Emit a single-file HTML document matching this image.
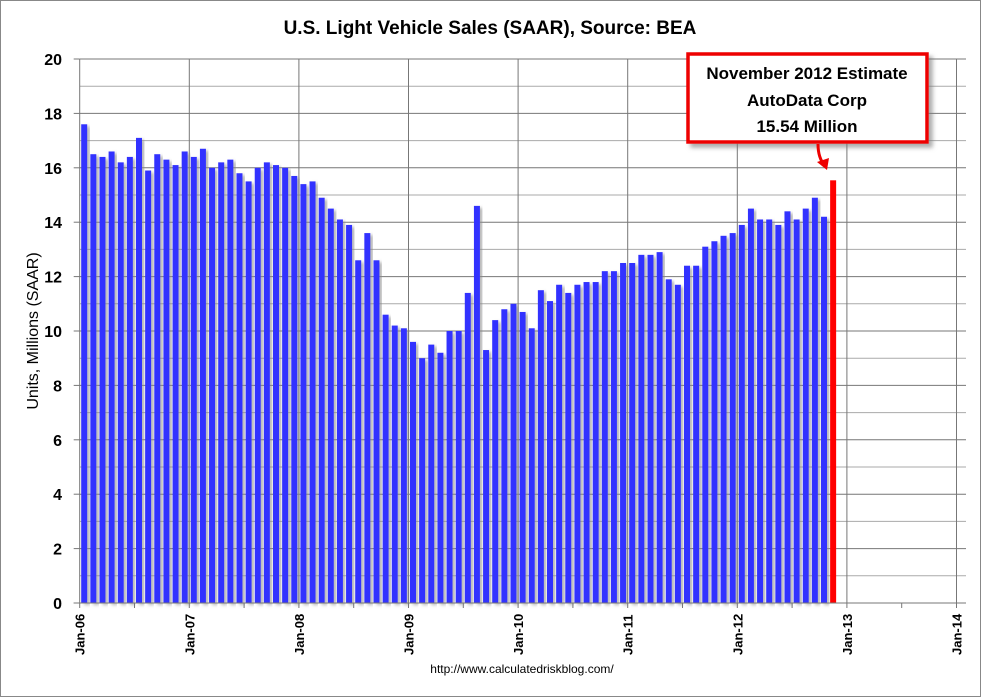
<!DOCTYPE html>
<html><head><meta charset="utf-8"><style>
html,body{margin:0;padding:0;background:#fff}
svg{display:block;font-family:"Liberation Sans",sans-serif}
</style></head><body>
<svg id="chart" width="981" height="697" xmlns="http://www.w3.org/2000/svg">
<defs>
<filter id="sh" x="-20%" y="-5%" width="160%" height="110%"><feDropShadow dx="3" dy="2" stdDeviation="1.5" flood-color="#888" flood-opacity="0.6"/></filter>
<filter id="bsh" x="-10%" y="-10%" width="130%" height="130%"><feDropShadow dx="4" dy="4" stdDeviation="2" flood-color="#777" flood-opacity="0.6"/></filter>
</defs>
<rect x="0.5" y="0.5" width="980" height="696" fill="#fff" stroke="#888"/>
<text x="490" y="34" text-anchor="middle" font-size="19" font-weight="bold" fill="#000">U.S. Light Vehicle Sales (SAAR), Source: BEA</text>
<g id="grid"></g>
<g id="bars"></g>
<g id="axes"></g>
<text transform="translate(38,331) rotate(-90)" text-anchor="middle" font-size="16" fill="#000">Units, Millions (SAAR)</text>
<text x="522" y="673" text-anchor="middle" font-size="12" fill="#000">http://www.calculatedriskblog.com/</text>
<g>
<rect x="688" y="54" width="239" height="88" fill="#fff" stroke="#e00" stroke-width="3.5" filter="url(#bsh)"/>
<text x="807" y="79" text-anchor="middle" font-size="17" font-weight="bold">November 2012 Estimate</text>
<text x="807" y="106" text-anchor="middle" font-size="17" font-weight="bold">AutoData  Corp</text>
<text x="807" y="132" text-anchor="middle" font-size="17" font-weight="bold">15.54 Million</text>
<path d="M818,144 Q818,158 825,166" fill="none" stroke="#e00" stroke-width="3"/>
<path d="M817,162 L827,170 L829,158 Z" fill="#e00"/>
</g>
</svg>
<script>
const values = [17.6,16.5,16.4,16.6,16.2,16.4,17.1,15.9,16.5,16.3,16.1,16.6,
16.4,16.7,16.0,16.2,16.3,15.8,15.5,16.0,16.2,16.1,16.0,15.7,
15.4,15.5,14.9,14.5,14.1,13.9,12.6,13.6,12.6,10.6,10.2,10.1,
9.6,9.0,9.5,9.2,10.0,10.0,11.4,14.6,9.3,10.4,10.8,11.0,
10.7,10.1,11.5,11.1,11.7,11.4,11.7,11.8,11.8,12.2,12.2,12.5,
12.5,12.8,12.8,12.9,11.9,11.7,12.4,12.4,13.1,13.3,13.5,13.6,
13.9,14.5,14.1,14.1,13.9,14.4,14.1,14.5,14.9,14.2];
const estimateValue = [15.54];
const yTicks = [0,2,4,6,8,10,12,14,16,18,20];
const xTickLabels = ["Jan-06","Jan-07","Jan-08","Jan-09","Jan-10","Jan-11","Jan-12","Jan-13","Jan-14"];

const NS="http://www.w3.org/2000/svg";
const X0=79.7, MW=109.6/12, Y0=603, YT=59, YMAX=20;
const xs=i=>X0+i*MW;
const ys=v=>Y0-(v/YMAX)*(Y0-YT);
function mk(tag,attrs,parent){const e=document.createElementNS(NS,tag);for(const k in attrs)e.setAttribute(k,attrs[k]);parent.appendChild(e);return e;}
const grid=document.getElementById('grid'),bars=document.getElementById('bars'),axes=document.getElementById('axes');
const XEND=966;
for(let v=1;v<=YMAX;v++){
  const l=mk('line',{x1:X0,x2:XEND,y1:ys(v),y2:ys(v),stroke:v%2?'#aaa':'#777','stroke-width':1},grid);
  
  
}
xTickLabels.forEach((t,k)=>{
  if(k>0){const l=mk('line',{x1:xs(k*12),x2:xs(k*12),y1:YT,y2:Y0,stroke:'#777'},grid);
  
  }
});
values.forEach((v,i)=>{
  const r=mk('rect',{x:xs(i)+1.5,y:ys(v),width:6,height:Y0-ys(v),fill:'#3333ff',filter:'url(#sh)'},bars);
  
  
});
estimateValue.forEach((v,j)=>{
  const i=values.length+j;
  const r=mk('rect',{x:xs(i)+1.5,y:ys(v),width:6,height:Y0-ys(v),fill:'#ff0000'},bars);
  
  
});
mk('line',{x1:X0,x2:X0,y1:YT,y2:Y0,stroke:'#777'},axes);
mk('line',{x1:X0-6,x2:XEND,y1:Y0,y2:Y0,stroke:'#777'},axes);
yTicks.forEach(v=>{
  mk('line',{x1:X0-6,x2:X0,y1:ys(v),y2:ys(v),stroke:'#777'},axes);
  const t=mk('text',{x:62,y:ys(v)+6,'text-anchor':'end','font-size':16,'font-weight':'bold'},axes);
  t.textContent=v;
  
  
});
for(let k=0;k<=16;k++){mk('line',{x1:xs(k*6),x2:xs(k*6),y1:Y0,y2:Y0+5,stroke:'#777'},axes);}
xTickLabels.forEach((t,k)=>{
  const x=xs(k*12)+5;
  const e=mk('text',{transform:`translate(${x},655) rotate(-90)`,'font-size':13,'font-weight':'bold'},axes);
  e.textContent=t;
  
  
});
</script>
</body></html>
